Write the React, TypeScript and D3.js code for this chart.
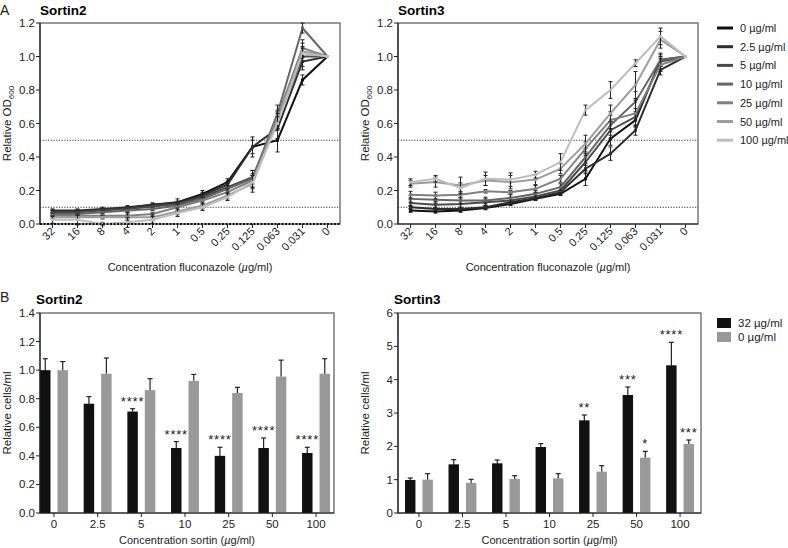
import React from 'react';
import * as d3 from 'd3';

// fluconazole concentrations (x categories, panel A)
const CONC = ['32', '16', '8', '4', '2', '1', '0.5', '0.25', '0.125', '0.063', '0.031', '0'];
const SORTIN_DOSES = ['0 µg/ml', '2.5 µg/ml', '5 µg/ml', '10 µg/ml', '25 µg/ml', '50 µg/ml', '100 µg/ml'];
const DOSE_COLORS = ['#111111', '#2e2e2e', '#4a4a4a', '#666666', '#808080', '#9c9c9c', '#bdbdbd'];

// Panel A, Sortin2 — relative OD600 per sortin dose
const S2_OD = [
  [0.075, 0.075, 0.085, 0.095, 0.115, 0.13, 0.18, 0.25, 0.46, 0.50, 0.86, 1.0],
  [0.08, 0.08, 0.09, 0.1, 0.115, 0.125, 0.17, 0.235, 0.46, 0.57, 0.97, 1.0],
  [0.07, 0.07, 0.08, 0.09, 0.105, 0.12, 0.16, 0.22, 0.28, 0.62, 1.0, 1.0],
  [0.06, 0.06, 0.07, 0.08, 0.09, 0.11, 0.15, 0.21, 0.27, 0.66, 1.17, 1.0],
  [0.05, 0.05, 0.05, 0.05, 0.06, 0.1, 0.14, 0.19, 0.26, 0.64, 1.05, 1.0],
  [0.04, 0.04, 0.04, 0.04, 0.04, 0.075, 0.11, 0.17, 0.24, 0.62, 1.03, 1.0],
  [0.025, 0.025, 0.0, 0.01, 0.025, 0.065, 0.1, 0.16, 0.25, 0.60, 1.02, 1.0],
];
const S2_OD_ERR = [
  [0.01, 0.01, 0.01, 0.01, 0.01, 0.02, 0.02, 0.02, 0.06, 0.07, 0.03, 0],
  [0.01, 0.01, 0.01, 0.01, 0.01, 0.01, 0.02, 0.02, 0.04, 0.06, 0.03, 0],
  [0.01, 0.01, 0.01, 0.01, 0.01, 0.01, 0.02, 0.02, 0.04, 0.05, 0.08, 0],
  [0.01, 0.01, 0.01, 0.01, 0.01, 0.01, 0.01, 0.02, 0.05, 0.05, 0.03, 0],
  [0.01, 0.01, 0.01, 0.02, 0.01, 0.02, 0.02, 0.02, 0.04, 0.04, 0.05, 0],
  [0.01, 0.01, 0.01, 0.02, 0.02, 0.02, 0.02, 0.02, 0.05, 0.04, 0.03, 0],
  [0.02, 0.03, 0.01, 0.03, 0.02, 0.02, 0.02, 0.02, 0.04, 0.04, 0.03, 0],
];

// Panel A, Sortin3
const S3_OD = [
  [0.08, 0.075, 0.08, 0.095, 0.12, 0.15, 0.18, 0.27, 0.51, 0.62, 0.98, 1.0],
  [0.10, 0.09, 0.09, 0.10, 0.13, 0.155, 0.19, 0.33, 0.42, 0.56, 0.92, 1.0],
  [0.125, 0.115, 0.12, 0.13, 0.14, 0.165, 0.2, 0.37, 0.56, 0.64, 0.97, 1.0],
  [0.15, 0.145, 0.14, 0.14, 0.155, 0.18, 0.22, 0.40, 0.59, 0.73, 0.98, 1.0],
  [0.175, 0.17, 0.175, 0.195, 0.19, 0.21, 0.27, 0.45, 0.62, 0.66, 0.95, 1.0],
  [0.24, 0.25, 0.23, 0.26, 0.25, 0.265, 0.33, 0.48, 0.66, 0.83, 1.10, 1.0],
  [0.25, 0.27, 0.215, 0.27, 0.265, 0.295, 0.37, 0.68, 0.80, 0.96, 1.12, 1.0],
];
const S3_OD_ERR = [
  [0.01, 0.01, 0.01, 0.01, 0.01, 0.01, 0.01, 0.04, 0.04, 0.04, 0.04, 0],
  [0.01, 0.01, 0.01, 0.01, 0.01, 0.01, 0.01, 0.03, 0.04, 0.03, 0.03, 0],
  [0.02, 0.02, 0.02, 0.02, 0.02, 0.02, 0.02, 0.05, 0.05, 0.05, 0.03, 0],
  [0.02, 0.02, 0.02, 0.02, 0.02, 0.02, 0.02, 0.05, 0.06, 0.06, 0.03, 0],
  [0.02, 0.02, 0.02, 0.01, 0.01, 0.02, 0.02, 0.04, 0.05, 0.08, 0.04, 0],
  [0.02, 0.03, 0.05, 0.03, 0.04, 0.03, 0.03, 0.05, 0.05, 0.08, 0.05, 0],
  [0.02, 0.02, 0.03, 0.04, 0.04, 0.02, 0.05, 0.03, 0.05, 0.02, 0.05, 0],
];

// Panel B — sortin concentrations, two fluconazole conditions
const SORTIN = ['0', '2.5', '5', '10', '25', '50', '100'];
const FLU_LABELS = ['32 µg/ml', '0 µg/ml'];
const BAR_COLORS = ['#111111', '#999999'];

const S2_CELLS_32 = [1.0, 0.765, 0.71, 0.455, 0.40, 0.455, 0.42];
const S2_CELLS_32_ERR = [0.08, 0.05, 0.02, 0.045, 0.06, 0.07, 0.04];
const S2_CELLS_0 = [1.0, 0.975, 0.86, 0.925, 0.84, 0.955, 0.975];
const S2_CELLS_0_ERR = [0.06, 0.11, 0.08, 0.045, 0.04, 0.115, 0.105];
const S2_STARS_32 = ['', '', '****', '****', '****', '****', '****'];
const S2_STARS_0 = ['', '', '', '', '', '', ''];

const S3_CELLS_32 = [0.99, 1.46, 1.49, 1.98, 2.78, 3.54, 4.43];
const S3_CELLS_32_ERR = [0.06, 0.14, 0.1, 0.1, 0.16, 0.24, 0.69];
const S3_CELLS_0 = [1.0, 0.9, 1.02, 1.04, 1.24, 1.66, 2.07];
const S3_CELLS_0_ERR = [0.18, 0.11, 0.1, 0.14, 0.18, 0.19, 0.12];
const S3_STARS_32 = ['', '', '', '', '**', '***', '****'];
const S3_STARS_0 = ['', '', '', '', '', '*', '***'];

const FONT = '"Liberation Sans", Arial, Helvetica, sans-serif';

function LinePanel({ left, title, values, errors, zeroDotted }) {
  const top = 23, bottom = 224, width = 300;
  const x = d3.scalePoint().domain(CONC).range([left, left + width]).padding(0.5);
  const y = d3.scaleLinear().domain([0, 1.2]).range([bottom, top]);
  const line = d3.line<number>().x((_, i) => x(CONC[i])).y(d => y(d));
  const yTicks = d3.range(0, 1.21, 0.2);
  return (
    <g>
      <text x={left} y={15} fontSize={13.5} fontWeight="bold">{title}</text>
      <rect x={left} y={top} width={width} height={bottom - top} fill="none" stroke="#555" strokeWidth={1.2} />
      {[0.5, 0.1].map(v => (
        <line key={v} x1={left} x2={left + width} y1={y(v)} y2={y(v)} stroke="#333" strokeWidth={1} strokeDasharray="1.2,1.5" />
      ))}
      {values.map((s, k) => (
        <g key={k}>
          <path d={line(s)} fill="none" stroke={DOSE_COLORS[k]} strokeWidth={2} />
          {s.map((v, i) => {
            const e = errors[k][i];
            const cx = x(CONC[i]);
            return (
              <g key={i}>
                {e > 0 && (
                  <g stroke="#222" strokeWidth={1}>
                    <line x1={cx} x2={cx} y1={y(v - e)} y2={y(v + e)} />
                    <line x1={cx - 2} x2={cx + 2} y1={y(v - e)} y2={y(v - e)} />
                    <line x1={cx - 2} x2={cx + 2} y1={y(v + e)} y2={y(v + e)} />
                  </g>
                )}
                <rect x={cx - 1.5} y={y(v) - 1.5} width={3} height={3} fill={DOSE_COLORS[k]} />
              </g>
            );
          })}
        </g>
      ))}
      {/* y axis */}
      <line x1={left} x2={left} y1={top} y2={bottom} stroke="#222" strokeWidth={1.2} />
      {yTicks.map(t => (
        <g key={t}>
          <line x1={left - 4} x2={left} y1={y(t)} y2={y(t)} stroke="#222" />
          <text x={left - 5} y={y(t) + 4} fontSize={11.5} textAnchor="end" fill="#222">{t.toFixed(1)}</text>
        </g>
      ))}
      {/* x axis */}
      {zeroDotted ? (
        <line x1={left} x2={left + width} y1={bottom} y2={bottom} stroke="#111" strokeWidth={2} strokeDasharray="2,1.5" />
      ) : (
        <line x1={left} x2={left + width} y1={bottom} y2={bottom} stroke="#222" strokeWidth={1.2} />
      )}
      {CONC.map(c => (
        <g key={c}>
          <line x1={x(c)} x2={x(c)} y1={bottom} y2={bottom + 4} stroke="#222" />
          <text transform={`translate(${x(c) + 3},${bottom + 8}) rotate(-45)`} fontSize={11} textAnchor="end" fill="#222">{c}</text>
        </g>
      ))}
      <text x={left + width / 2} y={271} fontSize={11} textAnchor="middle" fill="#222">
        Concentration fluconazole (<tspan fontStyle="italic">µ</tspan>g/ml)
      </text>
      <text transform={`translate(${left - 29},${(top + bottom) / 2}) rotate(-90)`} fontSize={11.5} textAnchor="middle" fill="#222">
        Relative OD<tspan fontSize={8} dy={3}>600</tspan>
      </text>
    </g>
  );
}

function BarPanel({ left, right, padL, padR, title, yMax, yStep, yFmt, series, errs, stars }) {
  const top = 313, bottom = 513;
  const x = d3.scaleBand().domain(SORTIN).range([left + padL, right - padR]).paddingInner(0.36).paddingOuter(0);
  const sub = d3.scaleBand().domain(['a', 'b']).range([0, x.bandwidth()]).paddingInner(0.4);
  const keys = ['a', 'b'];
  const y = d3.scaleLinear().domain([0, yMax]).range([bottom, top]);
  const yTicks = d3.range(0, yMax + yStep / 2, yStep);
  return (
    <g>
      <text x={left - 4} y={304} fontSize={13.5} fontWeight="bold">{title}</text>
      <rect x={left} y={top} width={right - left} height={bottom - top} fill="none" stroke="#555" strokeWidth={1.2} />
      {series.map((s, k) => (
        <g key={k}>
          {s.map((v, i) => {
            const bx = x(SORTIN[i]) + sub(keys[k]);
            const cx = bx + sub.bandwidth() / 2;
            const e = errs[k][i];
            return (
              <g key={i}>
                <rect x={bx} y={y(v)} width={sub.bandwidth()} height={bottom - y(v)} fill={BAR_COLORS[k]} />
                <g stroke="#222" strokeWidth={1.2}>
                  <line x1={cx} x2={cx} y1={y(v)} y2={y(v + e)} />
                  <line x1={cx - 2.5} x2={cx + 2.5} y1={y(v + e)} y2={y(v + e)} />
                  <line x1={cx} x2={cx} y1={y(v)} y2={y(v - e)} stroke={BAR_COLORS[k]} />
                </g>
                {stars[k][i] && (
                  <text x={cx} y={y(v + e) - 3} fontSize={13} textAnchor="middle" letterSpacing={0.8} fill="#222">{stars[k][i]}</text>
                )}
              </g>
            );
          })}
        </g>
      ))}
      <line x1={left} x2={left} y1={top} y2={bottom} stroke="#222" strokeWidth={1.2} />
      <line x1={left} x2={right} y1={bottom} y2={bottom} stroke="#222" strokeWidth={1.2} />
      {yTicks.map(t => (
        <g key={t}>
          <line x1={left - 4} x2={left} y1={y(t)} y2={y(t)} stroke="#222" />
          <text x={left - 5} y={y(t) + 4} fontSize={11.5} textAnchor="end" fill="#222">{yFmt(t)}</text>
        </g>
      ))}
      {SORTIN.map(c => (
        <g key={c}>
          <line x1={x(c) + x.bandwidth() / 2} x2={x(c) + x.bandwidth() / 2} y1={bottom} y2={bottom + 4} stroke="#222" />
          <text x={x(c) + x.bandwidth() / 2} y={bottom + 15} fontSize={11.5} textAnchor="middle" fill="#222">{c}</text>
        </g>
      ))}
      <text x={(left + right) / 2} y={544} fontSize={11} textAnchor="middle" fill="#222">
        Concentration sortin (<tspan fontStyle="italic">µ</tspan>g/ml)
      </text>
      <text transform={`translate(${left - 29},${(top + bottom) / 2}) rotate(-90)`} fontSize={11.5} textAnchor="middle" fill="#222">
        Relative cells/ml
      </text>
    </g>
  );
}

export default function App() {
  return (
    <svg width={788} height={548} style={{ position: 'absolute', left: 0, top: 0, background: '#fff' }} fontFamily={FONT}>
      <text x={0} y={15} fontSize={14} fill="#222">A</text>
      <text x={0} y={302} fontSize={14} fill="#222">B</text>

      <LinePanel left={40} title="Sortin2" values={S2_OD} errors={S2_OD_ERR} zeroDotted={true} />
      <LinePanel left={398} title="Sortin3" values={S3_OD} errors={S3_OD_ERR} zeroDotted={false} />

      {SORTIN_DOSES.map((d, i) => (
        <g key={d} transform={`translate(717,${28 + i * 18.7})`}>
          <line x1={0} x2={16} y1={0} y2={0} stroke={DOSE_COLORS[i]} strokeWidth={3} />
          <text x={23} y={4} fontSize={11} fill="#222">{d}</text>
        </g>
      ))}

      <BarPanel left={40} right={334} padL={0} padR={4} title="Sortin2" yMax={1.4} yStep={0.2}
        yFmt={t => t.toFixed(1)} series={[S2_CELLS_32, S2_CELLS_0]} errs={[S2_CELLS_32_ERR, S2_CELLS_0_ERR]}
        stars={[S2_STARS_32, S2_STARS_0]} />
      <BarPanel left={398} right={701} padL={7} padR={7} title="Sortin3" yMax={6} yStep={1}
        yFmt={t => String(Math.round(t))} series={[S3_CELLS_32, S3_CELLS_0]} errs={[S3_CELLS_32_ERR, S3_CELLS_0_ERR]}
        stars={[S3_STARS_32, S3_STARS_0]} />

      {FLU_LABELS.map((d, i) => (
        <g key={d} transform={`translate(717,${323 + i * 14})`}>
          <rect x={0} y={-5} width={14} height={10} fill={BAR_COLORS[i]} />
          <text x={21} y={4} fontSize={11.5} fill="#222">{d}</text>
        </g>
      ))}
    </svg>
  );
}
